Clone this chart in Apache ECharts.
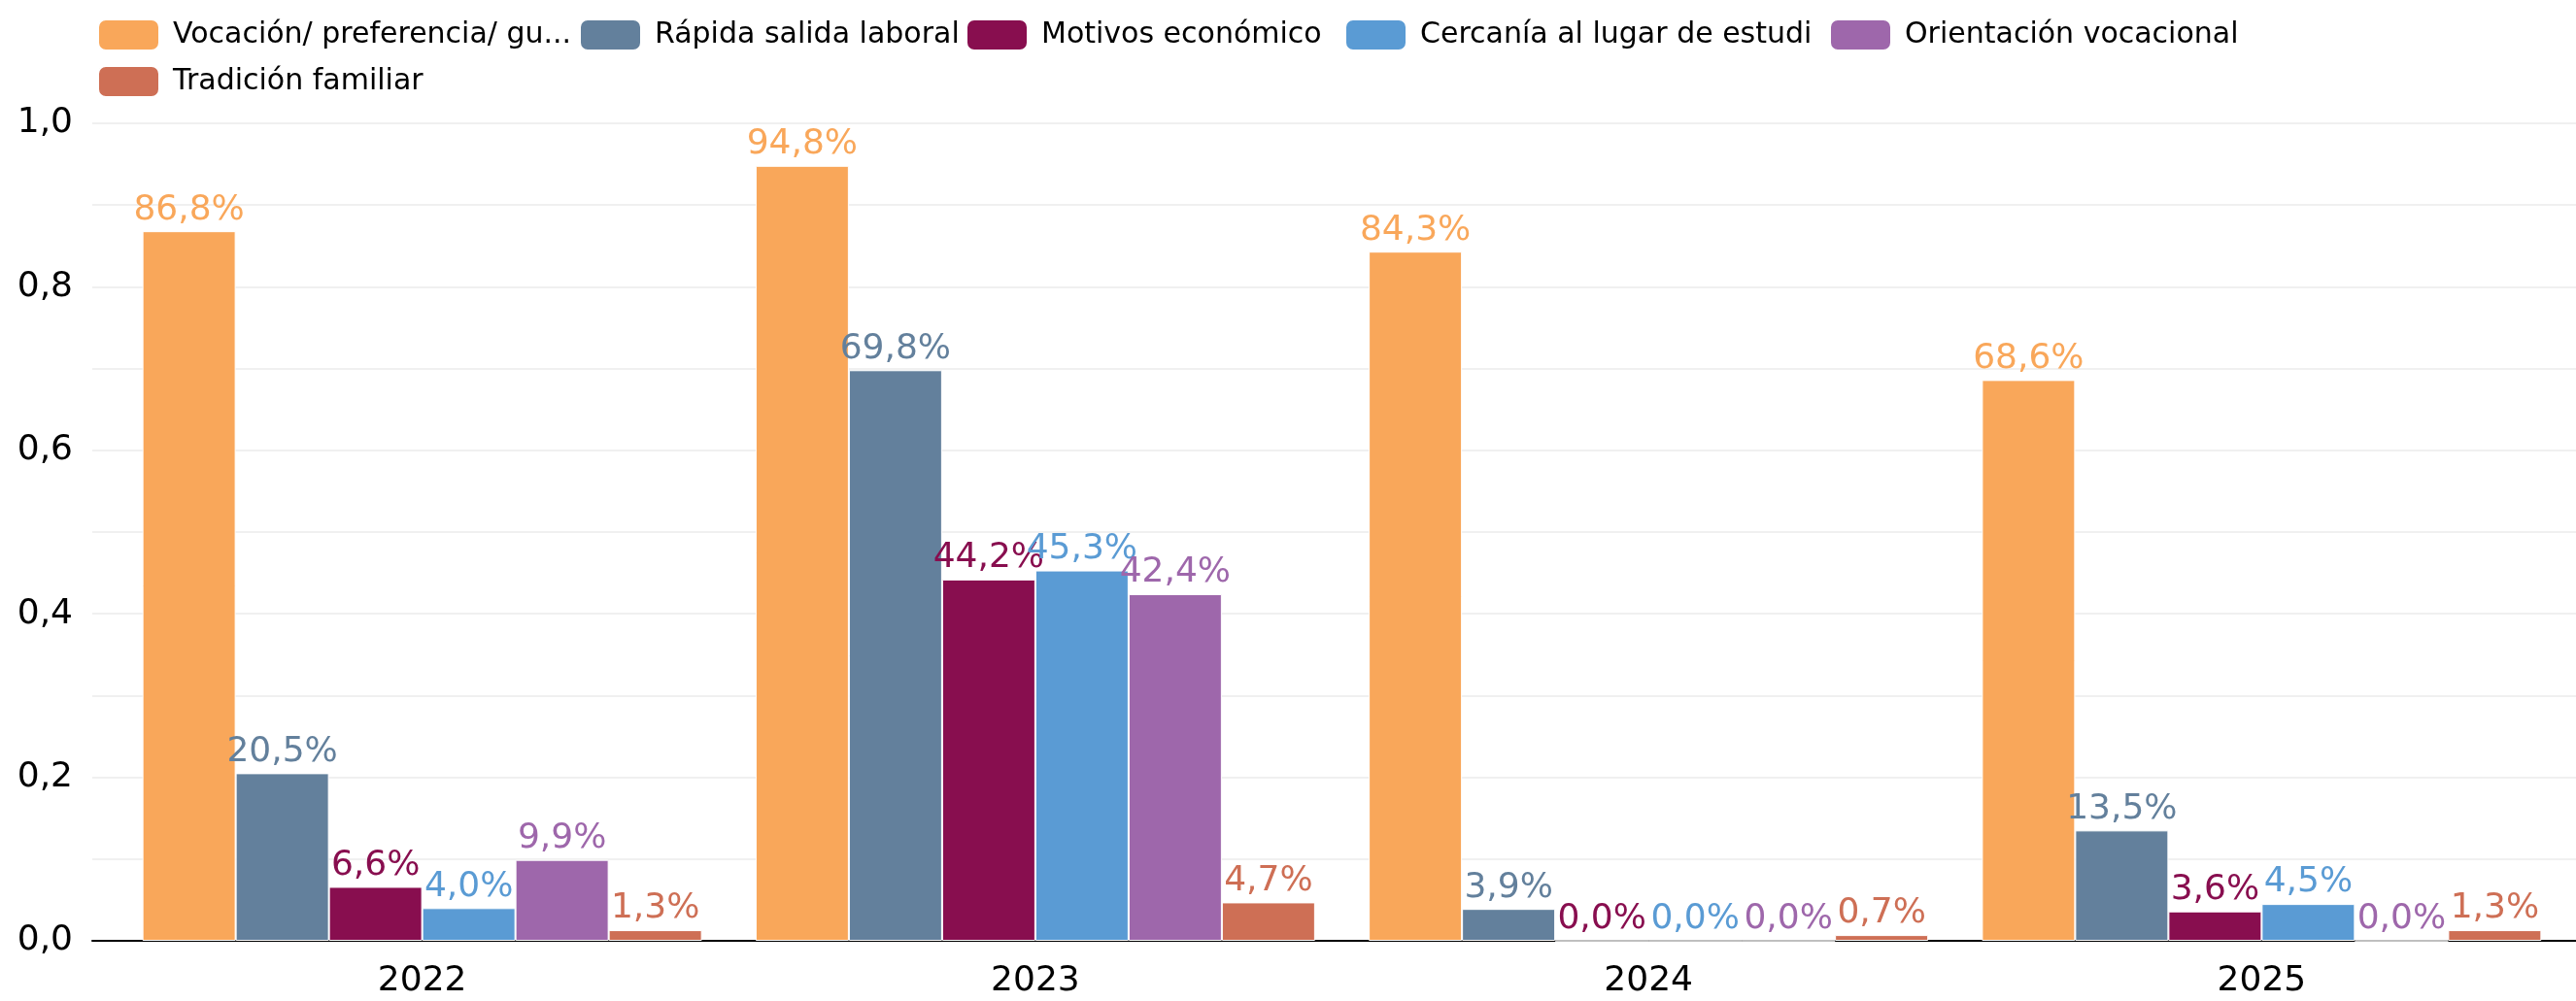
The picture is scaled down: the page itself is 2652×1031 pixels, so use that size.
<!DOCTYPE html>
<html>
<head>
<meta charset="utf-8">
<script src="https://cdn.jsdelivr.net/npm/echarts@6/dist/echarts.min.js"></script>
<style>
  html, body { margin: 0; padding: 0; background: #fff; }
  #chart { width: 2652px; height: 1031px; }
</style>
</head>
<body>
<div id="chart"></div>
<script>
var chartDom = document.getElementById('chart');
var myChart = echarts.init(chartDom);

// data
var years = ['2022', '2023', '2024', '2025'];
var seriesNames = ['Vocación/ preferencia/ gusto', 'Rápida salida laboral', 'Motivos económicos',
                   'Cercanía al lugar de estudio', 'Orientación vocacional', 'Tradición familiar'];
var legendLabels = ['Vocación/ preferencia/ gu...', 'Rápida salida laboral', 'Motivos económico',
                    'Cercanía al lugar de estudi', 'Orientación vocacional', 'Tradición familiar'];
var vocacion = [0.868, 0.948, 0.843, 0.686];
var salidaLaboral = [0.205, 0.698, 0.039, 0.135];
var economicos = [0.066, 0.442, 0.0, 0.036];
var cercania = [0.040, 0.453, 0.0, 0.045];
var orientacion = [0.099, 0.424, 0.0, 0.0];
var tradicion = [0.013, 0.047, 0.007, 0.013];
var yTicks = [0, 0.2, 0.4, 0.6, 0.8, 1.0];

var allData = [vocacion, salidaLaboral, economicos, cercania, orientacion, tradicion];
var colors = ['#F9A75A', '#63809C', '#880E4F', '#5A9BD4', '#9E67AB', '#CE6F55'];
var legendWidths = [416, 318, 310, 419, 363, 267];

var font = 'DejaVu Sans';

var series = [];
seriesNames.forEach(function (name, i) {
    series.push({
        name: name,
        type: 'bar',
        xAxisIndex: 1,
        yAxisIndex: 1,
        barWidth: 96,
        barGap: '0%',
        data: allData[i],
        itemStyle: { color: colors[i], borderColor: '#fff', borderWidth: 1 },
        label: {
            show: true,
            position: 'top',
            distance: 4,
            fontFamily: font,
            fontSize: 36,
            color: colors[i],
            formatter: function (p) {
                return (p.value * 100).toFixed(1).replace('.', ',') + '%';
            }
        }
    });
});

var legendData = seriesNames.map(function (name, i) {
    return {
        name: name,
        textStyle: { width: legendWidths[i] }
    };
});

var option = {
    animation: false,
    backgroundColor: '#fff',
    legend: {
        left: 95,
        top: 8,
        width: 2500,
        itemWidth: 63,
        itemHeight: 32,
        itemGap: 2,
        icon: 'roundRect',
        data: legendData,
        formatter: function (name) {
            return legendLabels[seriesNames.indexOf(name)];
        },
        textStyle: {
            fontFamily: font,
            fontSize: 30,
            color: '#000',
            lineHeight: 46,
            overflow: 'truncate',
            ellipsis: '',
            padding: [0, 0, 0, 9]
        }
    },
    grid: [
        { left: 95, right: 0, top: 127, bottom: 62 },
        { left: 119, right: 8, top: 127, bottom: 62 }
    ],
    xAxis: [
        {
            type: 'category',
            gridIndex: 0,
            data: years,
            axisLine: { lineStyle: { color: '#000', width: 2 } },
            axisTick: { show: false },
            axisLabel: { show: false }
        },
        {
            type: 'category',
            gridIndex: 1,
            data: years,
            axisLine: { show: false },
            axisTick: { show: false },
            axisLabel: { fontFamily: font, fontSize: 36, color: '#000', margin: 24 }
        }
    ],
    yAxis: [
        {
            type: 'value',
            gridIndex: 0,
            min: 0,
            max: 1,
            interval: 0.1,
            axisLine: { show: false },
            axisTick: { show: false },
            splitLine: { lineStyle: { color: '#F0F0F0', width: 2 } },
            axisLabel: {
                fontFamily: font,
                fontSize: 36,
                color: '#000',
                margin: 20,
                formatter: function (v) {
                    var r = Math.round(v * 10) / 10;
                    var isTick = yTicks.some(function (t) { return Math.abs(t - r) < 1e-9; });
                    return isTick ? r.toFixed(1).replace('.', ',') : '';
                }
            }
        },
        {
            type: 'value',
            gridIndex: 1,
            min: 0,
            max: 1,
            show: false
        }
    ],
    series: series
};

myChart.setOption(option);
</script>
</body>
</html>
